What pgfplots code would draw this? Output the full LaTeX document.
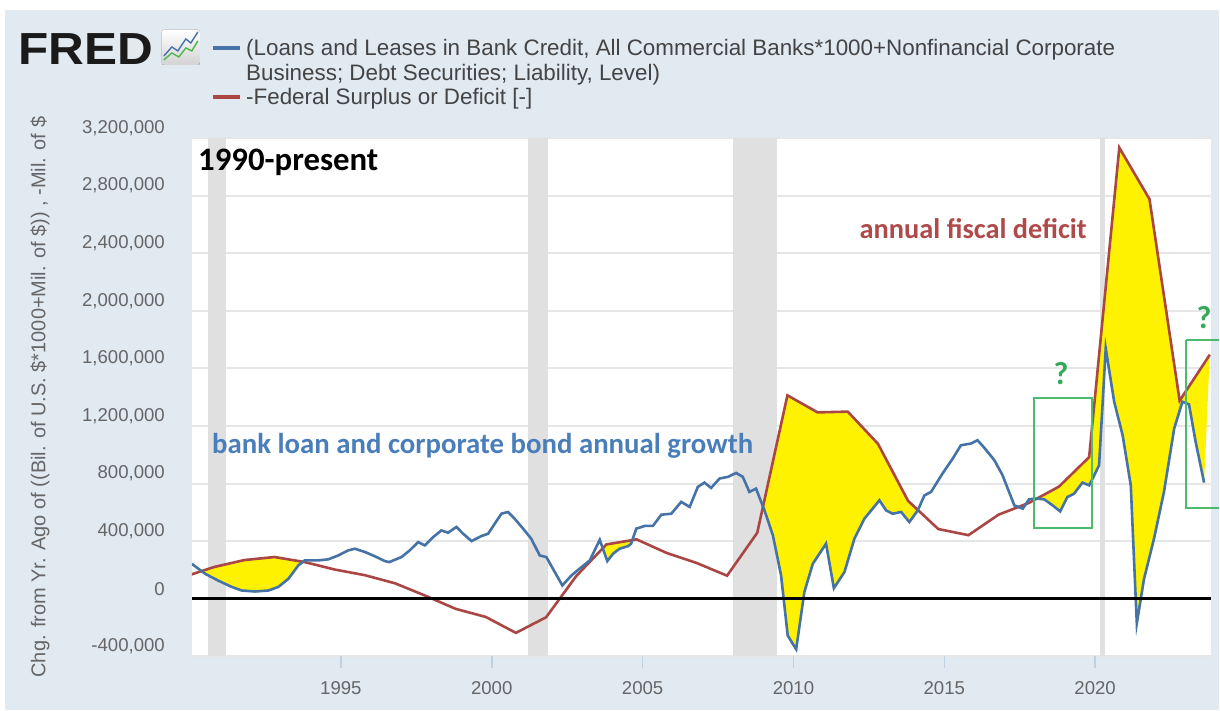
\documentclass[border=0pt]{standalone}
\usepackage{fontspec}
\setmainfont{Liberation Sans}
\newfontfamily\calibri{Carlito}
\usepackage{pgfplots}
\pgfplotsset{compat=1.18}
\usepackage{pgfplotstable}
\usepgfplotslibrary{fillbetween}
\definecolor{bgc}{RGB}{225,233,241}
\definecolor{fredblue}{RGB}{69,114,167}
\definecolor{fredred}{RGB}{170,70,67}
\definecolor{yel}{RGB}{255,242,0}
\definecolor{gridc}{RGB}{230,230,230}
\definecolor{recc}{RGB}{224,224,224}
\definecolor{tickc}{RGB}{102,102,102}
\definecolor{legc}{RGB}{68,68,68}
\definecolor{annblue}{RGB}{74,126,187}
\definecolor{annred}{RGB}{176,74,74}
\definecolor{anngreen}{RGB}{50,170,90}
\definecolor{boxgreen}{RGB}{76,187,108}
\definecolor{xtickc}{RGB}{192,208,224}

\pgfplotstableread{
x y
1989.8 152639
1990.8 221036
1991.8 269238
1992.8 290321
1993.8 255051
1994.8 203186
1995.8 163952
1996.8 107431
1997.8 21884
1998.8 -69270
1999.8 -125610
2000.8 -236241
2001.8 -128236
2002.8 157758
2003.8 377585
2004.8 412727
2005.8 318346
2006.8 248181
2007.8 160701
2008.8 458553
2009.8 1412688
2010.8 1294373
2011.8 1299599
2012.8 1076574
2013.8 679775
2014.8 484602
2015.8 441960
2016.8 584651
2017.8 665446
2018.8 779137
2019.8 983589
2020.8 3131917
2021.8 2775306
2022.8 1375476
2023.8 1695000
}\reddata

\pgfplotstableread{
x y
1990.06 243000
1990.50 174000
1990.93 127000
1991.38 83000
1991.71 58000
1992.15 51000
1992.60 58000
1992.93 83000
1993.26 139000
1993.59 232000
1993.80 267000
1994.25 267000
1994.58 274000
1994.91 301000
1995.24 336000
1995.46 348000
1995.80 325000
1996.13 295000
1996.46 262000
1996.60 255000
1997.01 290000
1997.28 336000
1997.56 394000
1997.78 371000
1998.06 429000
1998.33 475000
1998.55 459000
1998.83 499000
1999.05 452000
1999.33 401000
1999.66 436000
1999.88 452000
2000.10 522000
2000.32 591000
2000.54 603000
2000.76 556000
2001.04 487000
2001.31 417000
2001.59 301000
2001.81 290000
2002.09 186000
2002.34 93000
2002.64 162000
2002.91 209000
2003.25 267000
2003.58 410000
2003.83 262000
2004.02 313000
2004.24 348000
2004.52 366000
2004.62 383000
2004.79 487000
2005.07 506000
2005.34 506000
2005.62 584000
2005.95 591000
2006.28 673000
2006.56 638000
2006.83 777000
2007.05 807000
2007.27 770000
2007.55 835000
2007.83 847000
2008.10 874000
2008.32 847000
2008.54 742000
2008.76 765000
2009.04 614000
2009.32 440000
2009.59 162000
2009.81 -255000
2010.09 -350000
2010.36 46000
2010.64 243000
2011.08 383000
2011.34 74000
2011.69 186000
2012.02 417000
2012.35 556000
2012.85 684000
2013.07 614000
2013.29 591000
2013.57 603000
2013.84 533000
2014.12 614000
2014.34 718000
2014.56 742000
2014.94 870000
2015.28 974000
2015.55 1066000
2015.88 1078000
2016.10 1101000
2016.32 1050000
2016.66 962000
2016.93 858000
2017.32 649000
2017.60 626000
2017.81 691000
2018.04 696000
2018.31 691000
2018.59 649000
2018.84 607000
2019.08 707000
2019.30 730000
2019.58 807000
2019.80 788000
2019.97 858000
2020.13 927000
2020.35 1739000
2020.63 1368000
2020.91 1136000
2021.18 788000
2021.38 -170000
2021.62 139000
2021.95 417000
2022.28 742000
2022.62 1183000
2022.89 1368000
2023.11 1350000
2023.33 1090000
2023.61 807000
}\bluedata

\begin{document}
\begin{tikzpicture}[x=0.5pt,y=0.5pt]
\pgfplotsset{set layers}
\begin{pgfonlayer}{axis background}
\fill[white] (0,0) rectangle (1220,711);
\fill[bgc] (5,0) rectangle (1220,701);
\end{pgfonlayer}
\begin{axis}[
  at={(96pt,27pt)}, anchor=south west,
  scale only axis, width=510pt, height=259.5pt,
  xmin=1990.06, xmax=2023.84, ymin=-400000, ymax=3200000,
  axis background/.style={fill=white},
  axis line style={draw=none},
  ytick={-400000,0,400000,800000,1200000,1600000,2000000,2400000,2800000,3200000},
  xtick={1995,2000,2005,2010,2015,2020},
  xtick pos=bottom, ytick pos=left,
  ymajorgrids, grid style={gridc, line width=1pt},
  tick align=outside,
  major tick length=6pt,
  xtick style={xtickc, line width=0.8pt},
  ytick style={draw=none},
  ticklabel style={font=\fontsize{9.3}{11}\selectfont, text=tickc},
  scaled y ticks=false,
  yticklabel style={/pgf/number format/fixed, /pgf/number format/1000 sep={,}, /pgf/number format/assume math mode=true, yshift=5pt, xshift=-4pt},
  xticklabel style={/pgf/number format/1000 sep={}, /pgf/number format/assume math mode=true, yshift=-3pt},
]
\addplot[on layer=pre main, fill=recc, draw=none, forget plot] coordinates {(1990.58,-400000) (1991.2,-400000) (1991.2,3200000) (1990.58,3200000)} -- cycle;
\addplot[on layer=pre main, fill=recc, draw=none, forget plot] coordinates {(2001.19,-400000) (2001.85,-400000) (2001.85,3200000) (2001.19,3200000)} -- cycle;
\addplot[on layer=pre main, fill=recc, draw=none, forget plot] coordinates {(2007.98,-400000) (2009.44,-400000) (2009.44,3200000) (2007.98,3200000)} -- cycle;
\addplot[on layer=pre main, fill=recc, draw=none, forget plot] coordinates {(2020.16,-400000) (2020.32,-400000) (2020.32,3200000) (2020.16,3200000)} -- cycle;

\addplot[draw=none, name path=redp, forget plot] table[x=x,y=y] {\reddata};
\addplot[draw=none, name path=bluep, forget plot] table[x=x,y=y] {\bluedata};
\addplot[fill=yel, draw=none] fill between[of=redp and bluep, split, every even segment/.style={fill opacity=0}];
\addplot[fredred, line width=1.3pt] table[x=x,y=y] {\reddata};
\addplot[fredblue, line width=1.3pt] table[x=x,y=y] {\bluedata};
\addplot[black, line width=1.5pt] coordinates {(1990.06,0) (2023.84,0)};
\end{axis}

% header
\node[anchor=base west, inner sep=0, font=\fontsize{22.5}{24}\selectfont\bfseries, text={rgb,255:red,26;green,26;blue,26}, xscale=1.1] at (18,646) {FRED};
\fill[rounded corners=1pt, top color=white, bottom color=gray!35] (162,646) rectangle (200,681);
\draw[fredblue, line width=0.7pt] (164,655) -- (172,664) -- (178,660) -- (186,672) -- (191,668) -- (198,679);
\draw[green!60!black!70, line width=0.7pt] (164,651) -- (172,658) -- (179,654) -- (186,663) -- (192,660) -- (198,670);
\draw[fredblue, line width=1.6pt] (213,663) -- (240,663);
\draw[fredred, line width=1.6pt] (213,614) -- (240,614);
\begin{scope}[every node/.style={anchor=base west, inner sep=0, font=\fontsize{11.2}{13}\selectfont, text=legc}]
\node at (246,655) {(Loans and Leases in Bank Credit, All Commercial Banks*1000+Nonfinancial Corporate};
\node at (246,630.5) {Business; Debt Securities; Liability, Level)};
\node at (246,606) {-Federal Surplus or Deficit [-]};
\end{scope}
% y axis label
\node[rotate=90, font=\fontsize{10}{12}\selectfont, text=tickc] at (40,313.5) {Chg. from Yr. Ago of ((Bil. of U.S. \$*1000+Mil. of \$)) , -Mil. of \$};

% annotations
\node[anchor=west, inner sep=0, font=\calibri\bfseries\fontsize{16.4}{18}\selectfont] at (198,549) {1990-present};
\node[anchor=west, inner sep=0, font=\calibri\bfseries\fontsize{14.4}{16}\selectfont, text=annblue] at (212,265) {bank loan and corporate bond annual growth};
\node[anchor=west, inner sep=0, font=\calibri\bfseries\fontsize{14.2}{16}\selectfont, text=annred] at (860,482) {annual fiscal deficit};
\node[font=\calibri\bfseries\fontsize{16}{18}\selectfont, text=anngreen] at (1062,337) {?};
\node[font=\calibri\bfseries\fontsize{16}{18}\selectfont, text=anngreen] at (1205,393) {?};
\draw[boxgreen, line width=1pt] (1035,313) rectangle (1093,183);
\draw[boxgreen, line width=1pt] (1187,371) -- (1220,371);
\draw[boxgreen, line width=1pt] (1220,203) -- (1187,203) -- (1187,371);
\end{tikzpicture}
\end{document}
